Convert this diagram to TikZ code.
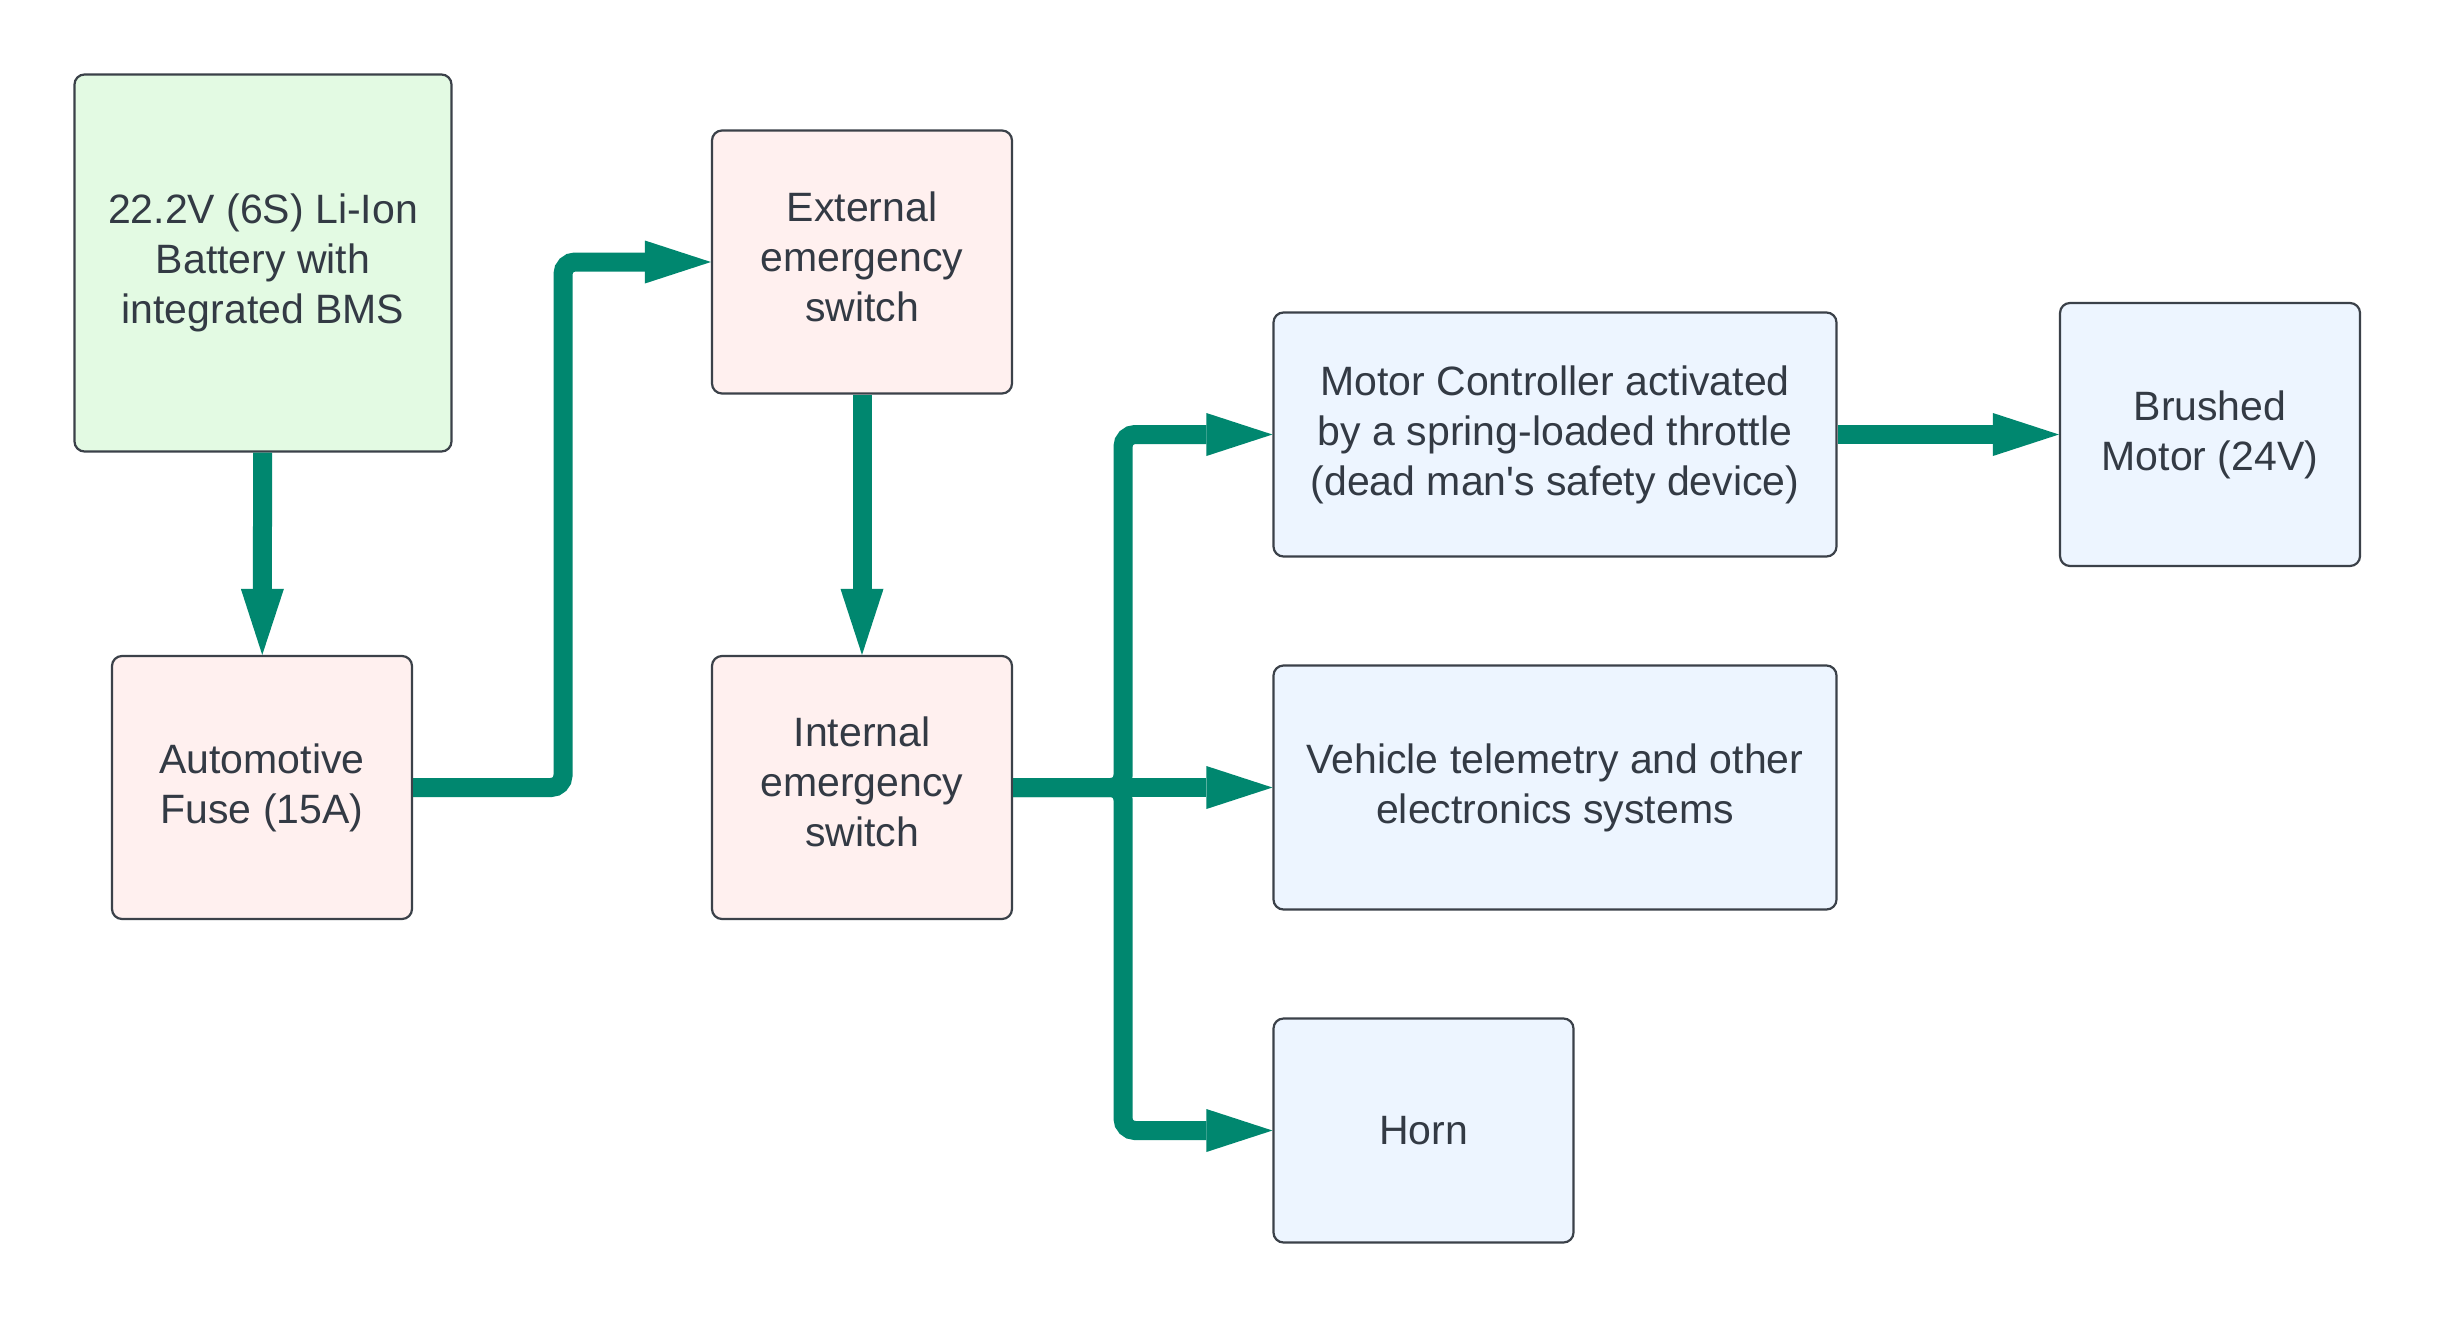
\documentclass[tikz,border=0pt]{standalone}
\usepackage{fontspec}
\setmainfont{Liberation Sans}
\usepackage{tikz}
\usetikzlibrary{arrows.meta}
\definecolor{boxline}{HTML}{3B4149}
\definecolor{boxtext}{HTML}{333A44}
\definecolor{fillgreen}{HTML}{E3FAE3}
\definecolor{fillpink}{HTML}{FFF0EF}
\definecolor{fillblue}{HTML}{EDF5FF}
\definecolor{wireteal}{HTML}{00876F}
\tikzstyle{node_box} = [rectangle, draw=boxline, line width=2.2pt, rounded corners=10pt, inner sep=0pt, align=center, text=boxtext, font=\fontsize{41}{50}\selectfont]
\tikzstyle{node_battery} = [node_box, fill=fillgreen, minimum width=377pt, minimum height=377pt]
\tikzstyle{node_switch} = [node_box, fill=fillpink, minimum width=300pt, minimum height=263pt]
\tikzstyle{node_load} = [node_box, fill=fillblue, minimum width=563pt, minimum height=244pt]
\tikzstyle{node_small} = [node_box, fill=fillblue, minimum width=300pt, minimum height=263pt]
\tikzstyle{edge_power} = [draw=wireteal, line width=19pt, rounded corners=12pt, -{Triangle[length=66pt, width=43pt, line width=0pt]}]

\begin{document}
\begin{tikzpicture}[x=1pt, y=-1pt]
		\useasboundingbox (0,0) rectangle (2438,1318);
		\fill[white] (0,0) rectangle (2438,1318);
		\def\riserx{563}
		\def\busx{1123}
		\node (Battery) at (263, 263) [node_battery] {22.2V (6S) Li-Ion\\Battery with\\integrated BMS};
		\node (Fuse) at (262, 787.5) [node_switch] {Automotive\\Fuse (15A)};
		\node (ExtSwitch) at (862, 262) [node_switch, text depth=11pt] {External\\emergency\\switch};
		\node (IntSwitch) at (862, 787.5) [node_switch, text depth=11pt] {Internal\\emergency\\switch};
		\node (Controller) at (1555, 434.5) [node_load] {Motor Controller activated\\by a spring-loaded throttle\\(dead man\textquotesingle s safety device)};
		\node (Motor) at (2210, 434.5) [node_small] {Brushed\\Motor (24V)};
		\node (Telemetry) at (1555, 787.5) [node_load] {Vehicle telemetry and other\\electronics systems};
		\node (Horn) at (1423.5, 1130.5) [node_small, minimum height=224pt] {Horn};
		\coordinate (Riser) at (\riserx, 0);
		\coordinate (Bus) at (\busx, 0);
		
		\draw[edge_power] (Battery) -- (Fuse);
		\draw[edge_power] (Fuse.east) -- (Fuse.east -| Riser) |- (ExtSwitch.west);
		\draw[edge_power] (ExtSwitch) -- (IntSwitch);
		\draw[edge_power] (IntSwitch.east) -- (IntSwitch.east -| Bus) |- (Controller.west);
		\draw[edge_power] (IntSwitch.east) -- (Telemetry.west);
		\draw[edge_power] (IntSwitch.east) -- (IntSwitch.east -| Bus) |- (Horn.west);
		\draw[edge_power] (Controller) -- (Motor);
\end{tikzpicture}
\end{document}
